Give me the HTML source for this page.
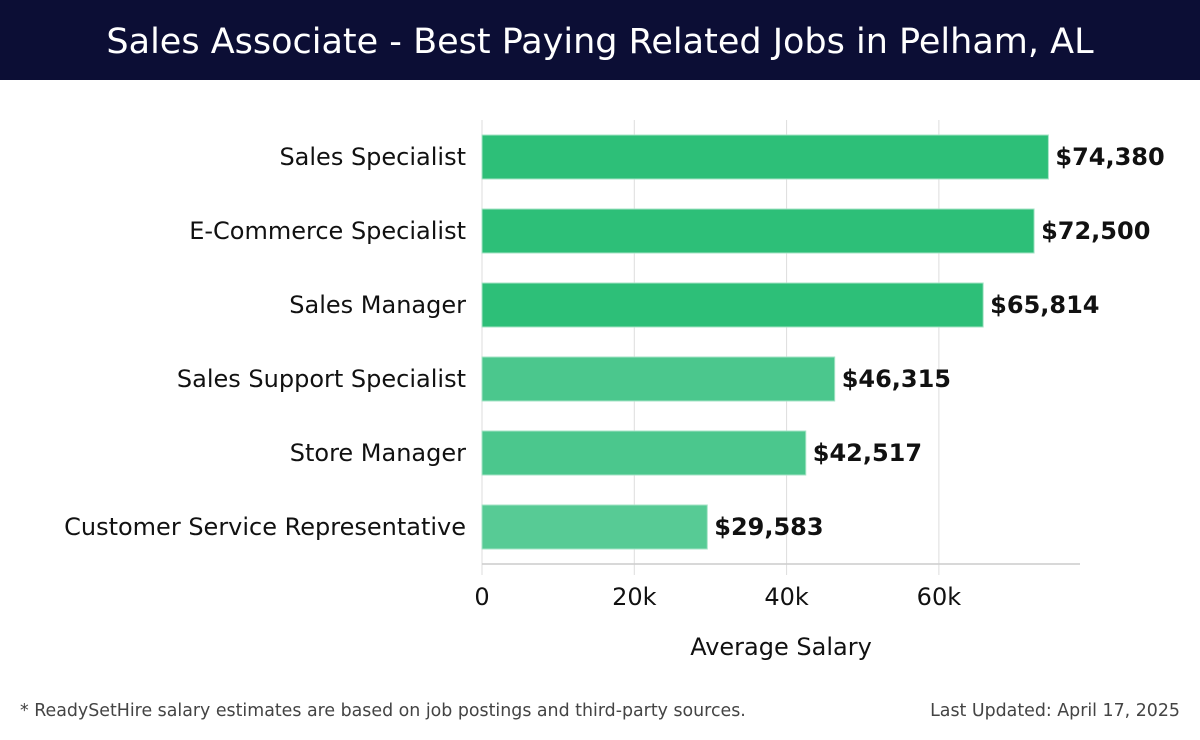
<!DOCTYPE html>
<html><head><meta charset="utf-8"><style>
body{margin:0;width:1200px;height:740px;background:#fff;font-family:"DejaVu Sans","Liberation Sans",sans-serif;overflow:hidden;position:relative}
#hdr{position:absolute;left:0;top:0;width:1200px;height:80px;background:#0c0e35;color:#fff;font-size:35px;text-align:center;line-height:84px}
.foot{position:absolute;top:701px;font-size:17.4px;color:#444}
</style></head><body>
<div id="hdr">Sales Associate - Best Paying Related Jobs in Pelham, AL</div>
<svg id="chart" width="1200" height="740" style="position:absolute;left:0;top:0"></svg>
<div class="foot" style="left:20px">* ReadySetHire salary estimates are based on job postings and third-party sources.</div>
<div class="foot" style="right:20px">Last Updated: April 17, 2025</div>
<script>
const categories=["Sales Specialist","E-Commerce Specialist","Sales Manager","Sales Support Specialist","Store Manager","Customer Service Representative"];
const values=[74380,72500,65814,46315,42517,29583];
const labels=["$74,380","$72,500","$65,814","$46,315","$42,517","$29,583"];
const ticks=[0,20000,40000,60000];
const tickLabels=["0","20k","40k","60k"];
const NS="http://www.w3.org/2000/svg";
const svg=document.getElementById('chart');
const x=v=>482+v*(152.3/20000);
const yc=i=>157+i*74;
function mk(t,a){const e=document.createElementNS(NS,t);for(const k in a)e.setAttribute(k,a[k]);svg.appendChild(e);return e;}
ticks.forEach((t,i)=>{
 const g=mk('line',{x1:x(t),x2:x(t),y1:120,y2:575,stroke:'#ddd','stroke-width':1});
 
 
 const tl=mk('text',{x:x(t),y:605,'text-anchor':'middle','font-size':24,fill:'#111'});
 tl.textContent=tickLabels[i];
 
 
});
const ax=mk('line',{x1:482,x2:1080,y1:564,y2:564,stroke:'#ccc','stroke-width':1.5});


const cols=['#2dbf78','#2dbf78','#2dbf78','#4bc78d','#4bc78d','#57cb95'];
categories.forEach((c,i)=>{
 const r=mk('rect',{x:482,y:yc(i)-22,width:x(values[i])-482,height:44,fill:cols[i],stroke:'#a6e3c6','stroke-width':1});
 
 
 const cl=mk('text',{x:466,y:yc(i)+8,'text-anchor':'end','font-size':24,fill:'#111'});
 cl.textContent=c;
 
 
 const vl=mk('text',{x:x(values[i])+7,y:yc(i)+8,'font-size':24,'font-weight':'bold',fill:'#111'});
 vl.textContent=labels[i];
 
 
});
const at=mk('text',{x:781,y:655,'text-anchor':'middle','font-size':24,fill:'#111'});
at.textContent='Average Salary';


</script>
</body></html>
